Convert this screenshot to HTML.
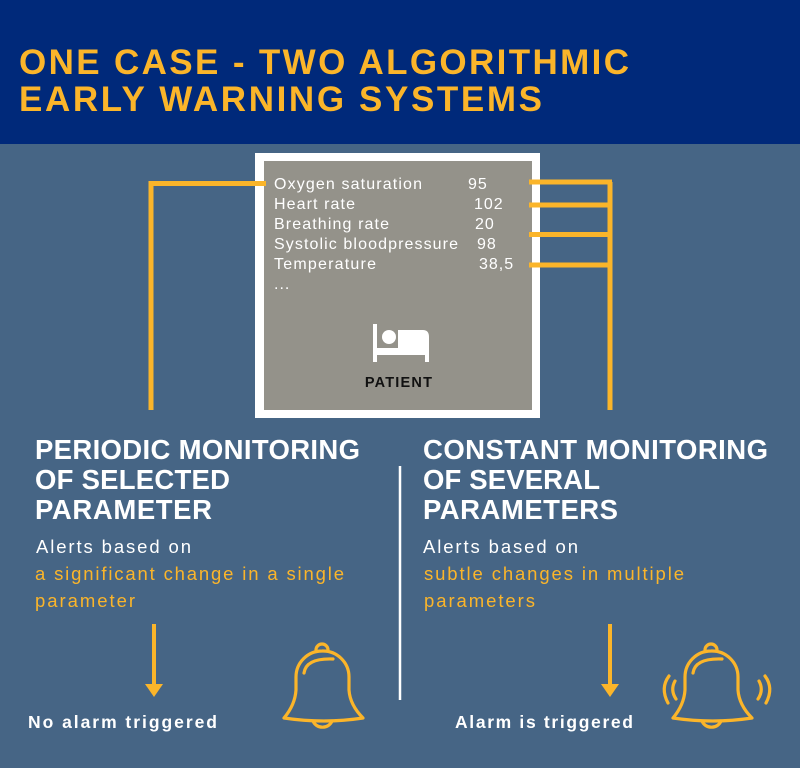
<!DOCTYPE html>
<html><head><meta charset="utf-8"><style>
html,body{margin:0;padding:0;background:#466585;}
svg{display:block;font-family:"Liberation Sans",sans-serif;}
</style></head><body>
<svg width="800" height="768" viewBox="0 0 800 768" xmlns="http://www.w3.org/2000/svg">
<rect width="800" height="768" fill="#466585"/>
<rect width="800" height="144" fill="#00297a"/>
<g fill="#fbb52a" font-weight="bold" font-size="35">
<text x="19" y="74" textLength="610" lengthAdjust="spacing">ONE CASE - TWO ALGORITHMIC</text>
<text x="19" y="111" textLength="523" lengthAdjust="spacing">EARLY WARNING SYSTEMS</text>
</g>
<rect x="255" y="153" width="285" height="265" fill="#fff"/>
<rect x="264" y="161" width="268" height="249" fill="#94928a"/>
<g fill="none" stroke="#fbb52a" stroke-width="5">
<path d="M151 410 V183.5 H266"/>
<path d="M610 410 V182"/>
<path d="M529 182 H612 M529 205 H610 M529 234.5 H610 M529 265 H610"/>
</g>
<g fill="#fff" font-size="16" letter-spacing="1">
<text x="274" y="189" textLength="149" lengthAdjust="spacing">Oxygen saturation</text><text x="468" y="189">95</text>
<text x="274" y="209" textLength="82" lengthAdjust="spacing">Heart rate</text><text x="474" y="209">102</text>
<text x="274" y="229" textLength="116" lengthAdjust="spacing">Breathing rate</text><text x="475" y="229">20</text>
<text x="274" y="249" textLength="185" lengthAdjust="spacing">Systolic bloodpressure</text><text x="477" y="249">98</text>
<text x="274" y="269" textLength="103" lengthAdjust="spacing">Temperature</text><text x="479" y="269">38,5</text>
<text x="274" y="289">...</text>
</g>
<g fill="#fff">
<rect x="373" y="324" width="4" height="38"/>
<circle cx="389" cy="337" r="7"/>
<path d="M398 330 H423 Q429 330 429 337 V362 H425 V355 H377 V348 H398 Z"/>
</g>
<text x="399" y="387" text-anchor="middle" font-size="14.5" font-weight="bold" fill="#111" letter-spacing="1.2">PATIENT</text>
<g fill="#fff" font-weight="bold" font-size="27.5">
<text x="35" y="459" textLength="325" lengthAdjust="spacing">PERIODIC MONITORING</text>
<text x="35" y="489" textLength="195" lengthAdjust="spacing">OF SELECTED</text>
<text x="35" y="519" textLength="177" lengthAdjust="spacing">PARAMETER</text>
<text x="423" y="459" textLength="345" lengthAdjust="spacing">CONSTANT MONITORING</text>
<text x="423" y="489" textLength="177" lengthAdjust="spacing">OF SEVERAL</text>
<text x="423" y="519" textLength="195" lengthAdjust="spacing">PARAMETERS</text>
</g>
<g font-size="18.5">
<text x="36" y="553" fill="#fff" textLength="155" lengthAdjust="spacing">Alerts based on</text>
<text x="35" y="580" fill="#fbb52a" textLength="309" lengthAdjust="spacing">a significant change in a single</text>
<text x="35" y="607" fill="#fbb52a" textLength="100" lengthAdjust="spacing">parameter</text>
<text x="423" y="553" fill="#fff" textLength="155" lengthAdjust="spacing">Alerts based on</text>
<text x="424" y="580" fill="#fbb52a" textLength="260" lengthAdjust="spacing">subtle changes in multiple</text>
<text x="424" y="607" fill="#fbb52a" textLength="111" lengthAdjust="spacing">parameters</text>
</g>
<line x1="400" y1="466" x2="400" y2="700" stroke="#fff" stroke-width="2.5"/>
<g stroke="#fbb52a" stroke-width="4"><line x1="154" y1="624" x2="154" y2="686"/><line x1="610" y1="624" x2="610" y2="686"/></g>
<g fill="#fbb52a"><path d="M145 684 H163 L154 697 Z"/><path d="M601 684 H619 L610 697 Z"/></g>
<g fill="#fff" font-weight="bold" font-size="17.5">
<text x="28" y="728" textLength="189" lengthAdjust="spacing">No alarm triggered</text>
<text x="455" y="728" textLength="178" lengthAdjust="spacing">Alarm is triggered</text>
</g>
<g fill="none" stroke="#fbb52a" stroke-width="3.2" stroke-linecap="round" stroke-linejoin="round">
<g>
<path d="M322 651 A26 26 0 0 0 296 677 L296 690 Q295 705 284 718 Q324 724 363 718 Q350 705 349 690 L349 677 A26 26 0 0 0 322 651 Z"/>
<path d="M313 721 A10 9 0 0 0 332 721"/>
<path d="M316 650 A6 6 0 0 1 328 650"/>
<path d="M304 673 Q306 658 333 659"/>
</g>
<g transform="translate(389,0)">
<path d="M322 651 A26 26 0 0 0 296 677 L296 690 Q295 705 284 718 Q324 724 363 718 Q350 705 349 690 L349 677 A26 26 0 0 0 322 651 Z"/>
<path d="M313 721 A10 9 0 0 0 332 721"/>
<path d="M316 650 A6 6 0 0 1 328 650"/>
<path d="M304 673 Q306 658 333 659"/>
</g>
<path d="M669 676 Q660 688 668 703"/><path d="M675 681 Q670 690 676 699"/>
<path d="M765 676 Q774 688 766 703"/><path d="M759 681 Q764 690 758 699"/>
</g>
</svg>
</body></html>
